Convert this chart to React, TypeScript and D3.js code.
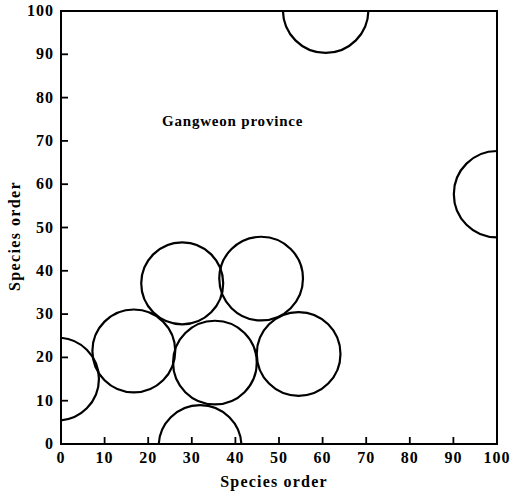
import React from "react";
import * as d3 from "d3";

const circleX = [-0.8, 16.7, 31.9, 35.3, 54.5, 27.8, 45.9, 60.7, 100];
const circleY = [15, 21.5, -0.6, 18.8, 20.8, 37.1, 38.2, 100.2, 57.7];
const circleR = [9.5, 9.5, 9.5, 9.6, 9.6, 9.4, 9.6, 9.8, 9.9];
const xTicks = [0, 10, 20, 30, 40, 50, 60, 70, 80, 90, 100];
const yTicks = [0, 10, 20, 30, 40, 50, 60, 70, 80, 90, 100];
const annotation = "Gangweon province";
const xTitle = "Species order";
const yTitle = "Species order";

export default function App() {
  const W = 512, H = 495;
  const x = d3.scaleLinear().domain([0, 100]).range([61, 497]);
  const y = d3.scaleLinear().domain([0, 100]).range([444, 11]);
  const px = (x(1) - x(0));
  const font = "'Liberation Serif', 'DejaVu Serif', serif";
  return (
    <svg width={W} height={H} style={{ position: "absolute", left: 0, top: 0, background: "#fff" }}>
      <defs>
        <clipPath id="plot">
          <rect x={x(0)} y={y(100)} width={x(100) - x(0)} height={y(0) - y(100)} />
        </clipPath>
      </defs>
      <g clipPath="url(#plot)">
        {circleX.map((cx, i) => (
          <circle key={i} cx={x(cx)} cy={y(circleY[i])} r={circleR[i] * px} fill="none" stroke="#000" strokeWidth={2.2} />
        ))}
      </g>
      <rect x={x(0)} y={y(100)} width={x(100) - x(0)} height={y(0) - y(100)} fill="none" stroke="#000" strokeWidth={2} />
      {xTicks.map((t) => (
        <g key={"x" + t}>
          {t > 0 && t < 100 && <line x1={x(t)} x2={x(t)} y1={y(0)} y2={y(0) - 7} stroke="#000" strokeWidth={1.8} />}
          <text x={x(t)} y={463} textAnchor="middle" fontFamily={font} fontWeight="bold" fontSize={16} letterSpacing={1}>{t}</text>
        </g>
      ))}
      {yTicks.map((t) => (
        <g key={"y" + t}>
          {t > 0 && t < 100 && <line x1={x(0)} x2={x(0) + 7} y1={y(t)} y2={y(t)} stroke="#000" strokeWidth={1.8} />}
          <text x={54} y={y(t) + 5} textAnchor="end" fontFamily={font} fontWeight="bold" fontSize={16} letterSpacing={1}>{t}</text>
        </g>
      ))}
      <text x={274} y={487} textAnchor="middle" fontFamily={font} fontWeight="bold" fontSize={16} letterSpacing={1.2}>{xTitle}</text>
      <text transform={`translate(20,236) rotate(-90)`} textAnchor="middle" fontFamily={font} fontWeight="bold" fontSize={16} letterSpacing={1.4}>{yTitle}</text>
      <text x={162} y={126} fontFamily={font} fontWeight="bold" fontSize={15} letterSpacing={0.8}>{annotation}</text>
    </svg>
  );
}
